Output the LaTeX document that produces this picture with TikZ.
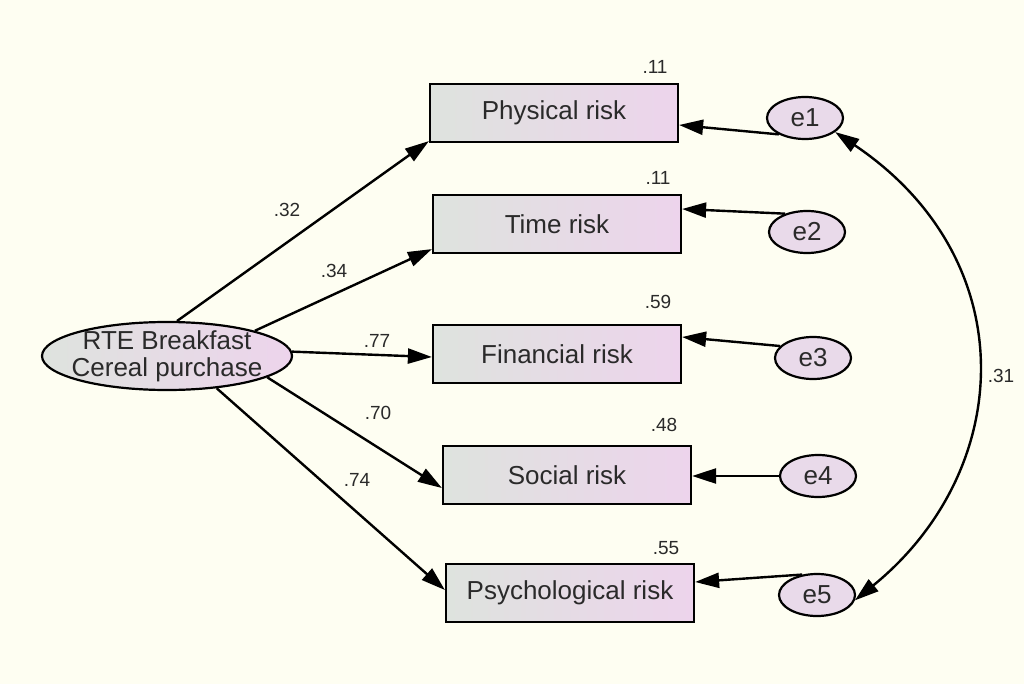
\documentclass[tikz,border=0pt]{standalone}
\usepackage{fontspec}
\setmainfont{Liberation Sans}
\usetikzlibrary{shapes.geometric,arrows.meta,calc}
\definecolor{bgc}{HTML}{FEFEF2}
\definecolor{lgray}{HTML}{DEE3DE}
\definecolor{lpink}{HTML}{EDD4EC}
\definecolor{epink}{HTML}{E9DAEA}
\definecolor{txt}{HTML}{2A2A2A}
\begin{document}
\begin{tikzpicture}[x=1pt,y=-1pt,
  obs/.style={draw=black,line width=2.2pt,left color=lgray,right color=lpink,
    minimum width=248pt,minimum height=58pt,inner sep=0pt,
    font=\fontsize{26}{30}\selectfont,text=txt},
  lat/.style={ellipse,draw=black,line width=2.2pt,left color=lgray,right color=lpink,
    minimum width=250pt,minimum height=68pt,inner xsep=-7pt,inner ysep=-5pt,align=center,
    font=\fontsize{26}{27}\selectfont,text=txt},
  err/.style={ellipse,draw=black,line width=2.2pt,fill=epink,
    minimum width=76pt,minimum height=42pt,inner sep=0pt,
    font=\fontsize{26}{30}\selectfont,text=txt},
  coef/.style={font=\fontsize{19}{22}\selectfont,text=txt,inner sep=1pt},
  path/.style={line width=2.4pt,-{Triangle[length=24pt,width=15pt]}},
  cov/.style={line width=2.4pt,{Triangle[length=24pt,width=15pt]}-{Triangle[length=24pt,width=15pt]}}
]
\fill[bgc] (0,0) rectangle (1024,684);
\useasboundingbox (0,0) rectangle (1024,684);

\node[lat] (rte) at (167,356) {RTE Breakfast\\Cereal purchase};

\node[obs] (phys) at (554,113) {Physical risk};
\node[obs] (time) at (557,224) {Time risk};
\node[obs] (fin) at (557,354) {Financial risk};
\node[obs] (soc) at (567,475) {Social risk};
\node[obs] (psy) at (570,593) {Psychological risk};

\node[err] (e1) at (805,118) {e1};
\node[err] (e2) at (807,232) {e2};
\node[err] (e3) at (813,358) {e3};
\node[err] (e4) at (818,476) {e4};
\node[err] (e5) at (817,595) {e5};

% paths
\draw[path] (rte.74) -- ([yshift=2pt]phys.south west);
\draw[path] (rte.16) -- ([yshift=5pt]time.south west);
\draw[path] (rte.2) -- ([yshift=-3pt]fin.west);
\draw[path] (rte.-12) -- ([yshift=-13pt]soc.west);
\draw[path] (rte.-33) -- ([yshift=3pt]psy.west);

% errors
\draw[path] (e1.212) -- ([yshift=-12pt]phys.east);
\draw[path] (e2.140) -- ([yshift=15pt]time.east);
\draw[path] (e3.160) -- ([yshift=17pt]fin.east);
\draw[path] (e4.west) -- (e4.west -| soc.east);
\draw[path] (e5.126) -- ([yshift=11pt]psy.east);

% covariance
\draw[cov] (e5.-8) .. controls (1015,470) and (1025,260) .. (e1.-25);

% coefficients
\node[coef] (c1) at (287,210) {.32};
\node[coef] (c2) at (334,271) {.34};
\node[coef] (c3) at (377,341) {.77};
\node[coef] (c4) at (378,413) {.70};
\node[coef] (c5) at (357,480) {.74};
\node[coef] (r1) at (655,67) {.11};
\node[coef] (r2) at (658,178) {.11};
\node[coef] (r3) at (658,302) {.59};
\node[coef] (r4) at (664,425) {.48};
\node[coef] (r5) at (666,548) {.55};
\node[coef] (c6) at (1001,376) {.31};
\end{tikzpicture}
\end{document}
